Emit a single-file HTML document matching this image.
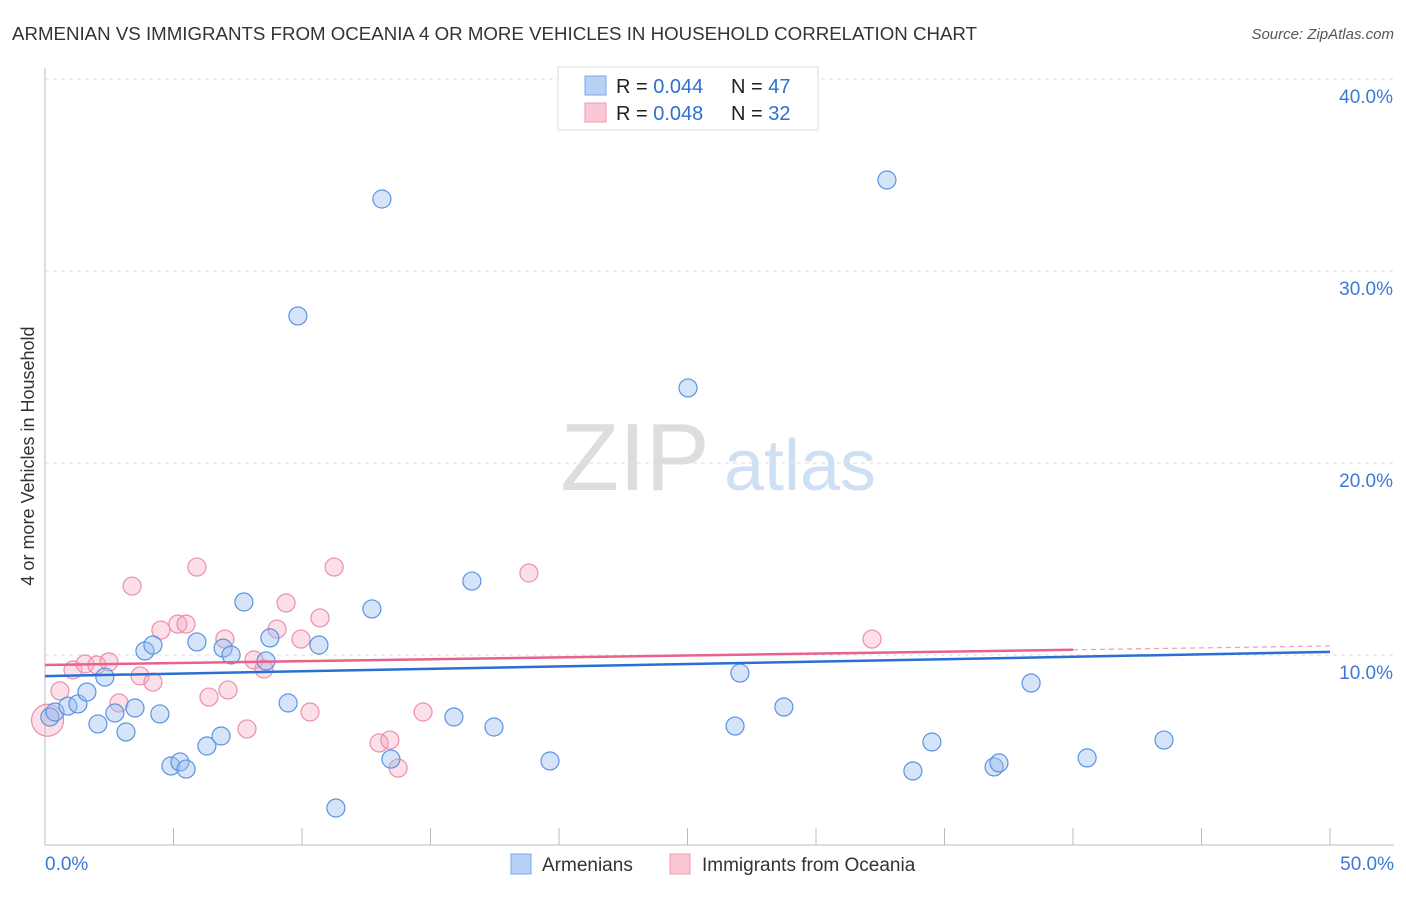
<!DOCTYPE html>
<html><head><meta charset="utf-8"><style>
body{margin:0;background:#fff;font-family:"Liberation Sans",sans-serif}
svg text{font-family:"Liberation Sans",sans-serif}
</style></head><body>
<svg id="chart" width="1406" height="892" viewBox="0 0 1406 892" xmlns="http://www.w3.org/2000/svg">
<text x="12" y="40" font-size="18" fill="#333" textLength="965" lengthAdjust="spacingAndGlyphs">ARMENIAN VS IMMIGRANTS FROM OCEANIA 4 OR MORE VEHICLES IN HOUSEHOLD CORRELATION CHART</text>
<text x="1394" y="39" font-size="15" fill="#555" font-style="italic" text-anchor="end">Source: ZipAtlas.com</text>
<g>
<text x="635" y="490" font-size="96" font-family="Liberation Serif,serif" fill="#ddd" text-anchor="middle">ZIP</text>
<text x="800" y="490" font-size="72" fill="#cfe0f5" text-anchor="middle">atlas</text>
</g>
<g id="grid"></g>
<g id="axes"></g>
<g id="pts"></g>
<g id="trends"></g>
<text transform="translate(34,456) rotate(-90)" font-size="18" fill="#333" text-anchor="middle">4 or more Vehicles in Household</text>
<g>
<rect x="558" y="67" width="260" height="63" fill="#fff" stroke="#ddd"/>
<rect x="585" y="76" width="21" height="19" fill="#b6d1f5" stroke="#7aa8e8"/>
<rect x="585" y="103" width="21" height="19" fill="#fbc7d5" stroke="#ee9ab2"/>
<text x="616" y="93" font-size="20" fill="#222">R = <tspan fill="#2f6fd0">0.044</tspan></text>
<text x="731" y="93" font-size="20" fill="#222">N = <tspan fill="#2f6fd0">47</tspan></text>
<text x="616" y="120" font-size="20" fill="#222">R = <tspan fill="#2f6fd0">0.048</tspan></text>
<text x="731" y="120" font-size="20" fill="#222">N = <tspan fill="#2f6fd0">32</tspan></text>
</g>
<g>
<rect x="511" y="854" width="20" height="20" fill="#b6d1f5" stroke="#7aa8e8"/>
<text x="542" y="871" font-size="19" fill="#333">Armenians</text>
<rect x="670" y="854" width="20" height="20" fill="#fbc7d5" stroke="#ee9ab2"/>
<text x="702" y="871" font-size="19" fill="#333">Immigrants from Oceania</text>
</g>
</svg>
<script>
const blueX=[0.19,0.39,0.89,1.28,1.63,2.06,2.33,2.72,3.15,3.50,3.89,4.20,4.47,4.90,5.25,5.49,5.91,6.30,6.85,6.93,7.24,7.74,8.60,8.75,9.46,9.84,10.66,11.32,12.72,13.11,13.46,15.91,16.61,17.47,19.65,25.02,26.85,27.04,28.75,32.76,33.77,34.51,36.93,37.12,38.37,40.55,43.54];
const blueY=[6.77,7.03,7.34,7.45,8.07,6.41,8.85,6.98,5.99,7.24,10.21,10.52,6.93,4.22,4.43,4.06,10.68,5.26,5.78,10.36,10.00,12.76,9.69,10.89,7.50,27.66,10.52,2.03,12.40,33.75,4.58,6.77,13.85,6.25,4.48,23.91,6.30,9.06,7.29,34.74,3.96,5.47,4.17,4.38,8.54,4.64,5.57];
const pinkX=[0.1,0.58,1.09,1.56,2.02,2.49,2.88,3.39,3.70,4.20,4.51,5.17,5.49,5.91,6.38,7.00,7.12,7.86,8.13,8.52,9.03,9.38,9.96,10.31,10.70,11.25,13.00,13.42,13.74,14.71,18.83,32.18];
const pinkY=[6.6,8.13,9.22,9.53,9.48,9.64,7.50,13.59,8.91,8.59,11.30,11.61,11.61,14.58,7.81,10.83,8.18,6.15,9.74,9.27,11.35,12.71,10.83,7.03,11.93,14.58,5.42,5.57,4.11,7.03,14.27,10.83];
const trendBlue=[8.9,10.16];
const trendPink=[9.48,10.47];
const xTicks=["0.0%","50.0%"];
const yTicks=[10,20,30,40];
const NS="http://www.w3.org/2000/svg";
const X=v=>45+v*25.7, Y=v=>847-v*19.2;
function mk(p,t,a){const e=document.createElementNS(NS,t);for(const k in a)e.setAttribute(k,a[k]);p.appendChild(e);return e;}
const grid=document.getElementById('grid'),axes=document.getElementById('axes'),pts=document.getElementById('pts'),tr=document.getElementById('trends');
const topLine=mk(grid,'line',{x1:45,x2:1394,y1:79,y2:79,stroke:'#ddd','stroke-dasharray':'4,4'});


yTicks.forEach(v=>{
 const l=mk(grid,'line',{x1:45,x2:1394,y1:Y(v),y2:Y(v),stroke:'#ddd','stroke-dasharray':'4,4'});
 
 
 const t=mk(grid,'text',{x:1393,y:Y(v)+24,'font-size':19,fill:'#3b78d8','text-anchor':'end'});t.textContent=v.toFixed(1)+'%';
 
 
});
const ya=mk(axes,'line',{x1:45,x2:45,y1:68,y2:845,stroke:'#bbb'});


const xa=mk(axes,'line',{x1:45,x2:1394,y1:845,y2:845,stroke:'#bbb'});


for(let v=5;v<=50;v+=5){const l=mk(axes,'line',{x1:X(v),x2:X(v),y1:828,y2:845,stroke:'#bbb'});

}
const t0=mk(axes,'text',{x:45,y:870,'font-size':19,fill:'#3b78d8'});t0.textContent=xTicks[0];


const t1=mk(axes,'text',{x:1394,y:870,'font-size':19,fill:'#3b78d8','text-anchor':'end'});t1.textContent=xTicks[1];


pinkX.forEach((x,i)=>{const c=mk(pts,'circle',{cx:X(x),cy:Y(pinkY[i]),r:i==0?16:9,fill:'rgba(246,164,188,0.35)',stroke:'#eb8fab','stroke-width':1.2});
 
 });
blueX.forEach((x,i)=>{const c=mk(pts,'circle',{cx:X(x),cy:Y(blueY[i]),r:9,fill:'rgba(150,188,238,0.4)',stroke:'#5a93e2','stroke-width':1.2});
 
 });
const bl=mk(tr,'line',{x1:X(0),y1:Y(trendBlue[0]),x2:X(50),y2:Y(trendBlue[1]),stroke:'#2a6fd6','stroke-width':2.5});


const pm=trendPink[0]+(trendPink[1]-trendPink[0])*0.8;
const pl=mk(tr,'line',{x1:X(0),y1:Y(trendPink[0]),x2:X(40),y2:Y(pm),stroke:'#e8628d','stroke-width':2.5});


const pd=mk(tr,'line',{x1:X(40),y1:Y(pm),x2:X(50),y2:Y(trendPink[1]),stroke:'#e8a0b5','stroke-width':1.2,'stroke-dasharray':'5,4'});


</script>
</body></html>
